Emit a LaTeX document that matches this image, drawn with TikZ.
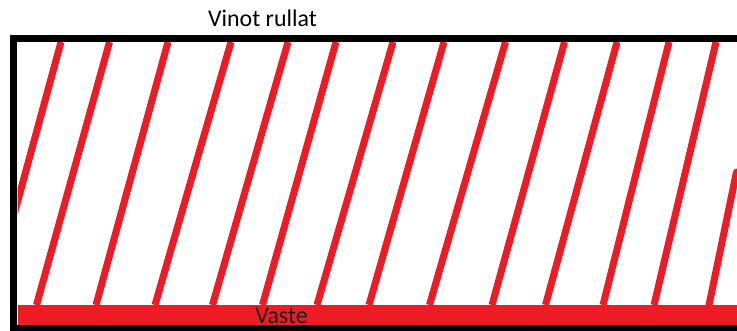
\documentclass[tikz,border=0pt]{standalone}
\usepackage{fontspec}
\setmainfont{Carlito}
\definecolor{paintred}{RGB}{237,28,36}
\begin{document}
\begin{tikzpicture}[x=0.01cm,y=-0.01cm,
  stripe/.style={draw=paintred,line width=2pt},
  frameline/.style={draw=black,line width=2.08pt},
  lbl/.style={inner sep=0pt,anchor=base,font=\fontsize{6.8}{8}\selectfont}]
\useasboundingbox (0,0) rectangle (737,331);
\begin{scope}
  \clip (17.5,42) rectangle (737,305);
  \foreach \a/\b in {61/-10.6,109.5/36.5,168/96,231/155,288/212.5,336/262.5,393/317,444/369,505.5/429.5,564.5/492,617/545.5,669/603,716/654}
    \draw[stripe] (\a,42) -- (\b,305);
  \draw[stripe,line cap=round] (736.5,172) -- (709,305);
\end{scope}
\fill[paintred] (17.5,305) rectangle (745,325.3);
\draw[frameline] (745,38.6) -- (13.7,38.6) -- (13.7,328.6) -- (745,328.6);
\node[lbl] (title) at (262.5,27) {Vinot rullat};
\node[lbl,text=black!90] (base) at (281.5,323) {Vaste};
\end{tikzpicture}
\end{document}
